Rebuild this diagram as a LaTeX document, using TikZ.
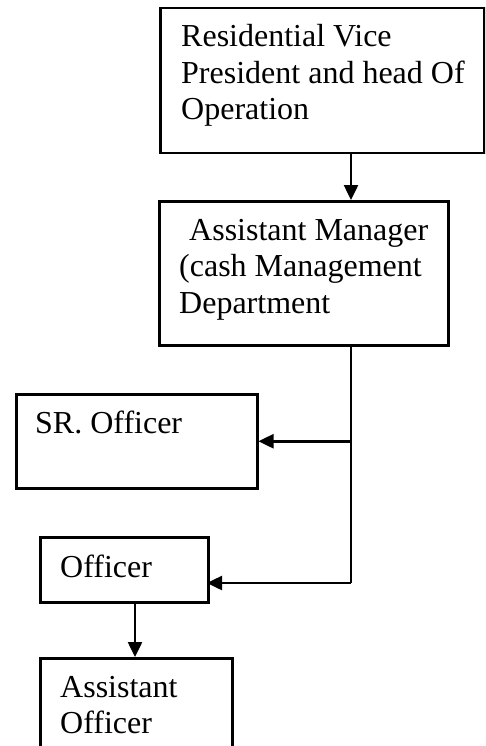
\documentclass[tikz,border=0pt]{standalone}
\usepackage{fontspec}
\setmainfont{Liberation Serif}
\usetikzlibrary{arrows.meta}
\begin{document}
\begin{tikzpicture}[x=1pt,y=-1pt,
  box/.style={draw,line width=2.5pt,rectangle,inner sep=0pt,anchor=north west},
  lbl/.style={anchor=base west,inner sep=0pt,font=\fontsize{32}{36.5}\selectfont},
  arr/.style={line width=2.5pt,-{Triangle[length=15pt,width=14pt]}},
  wire/.style={line width=2.5pt}]
\clip (0,0) rectangle (485,746);
\useasboundingbox (0,0) rectangle (485,746);

% boxes
\node[box,minimum width=324pt,minimum height=145pt] (b1) at (159,7) {};
\node[box,minimum width=289pt,minimum height=144pt] (b2) at (158,200) {};
\node[box,minimum width=241pt,minimum height=94pt]  (b3) at (15,393) {};
\node[box,minimum width=168pt,minimum height=65pt]  (b4) at (39,536) {};
\node[box,minimum width=192pt,minimum height=110pt] (b5) at (39,657) {};

% labels
\node[lbl] (t1a) at (181,47)  {Residential Vice};
\node[lbl] (t1b) at (181,83.5){President and head Of};
\node[lbl] (t1c) at (181,120) {Operation};
\node[lbl] (t2a) at (189,240) {Assistant Manager};
\node[lbl] (t2b) at (179,276) {(cash Management};
\node[lbl] (t2c) at (179,313) {Department};
\node[lbl] (t3)  at (35,433)  {SR. Officer};
\node[lbl] (t4)  at (60,577)  {Officer};
\node[lbl] (t5a) at (60,697)  {Assistant};
\node[lbl] (t5b) at (60,733)  {Officer};

% connector guides
\coordinate (trunk) at (351,0);
\coordinate (stem) at (135,0);
\coordinate (b4in) at (207,583);

% connectors
\draw[arr] (b1.south -| trunk) -- (b2.north -| trunk);
\draw[wire] (b2.south -| trunk) -- (trunk |- b4in);
\draw[arr] (trunk |- b3.east) -- (b3.east);
\draw[arr] (trunk |- b4in) -- (b4in);
\draw[arr] (b4.south -| stem) -- (b5.north -| stem);
\end{tikzpicture}
\end{document}
